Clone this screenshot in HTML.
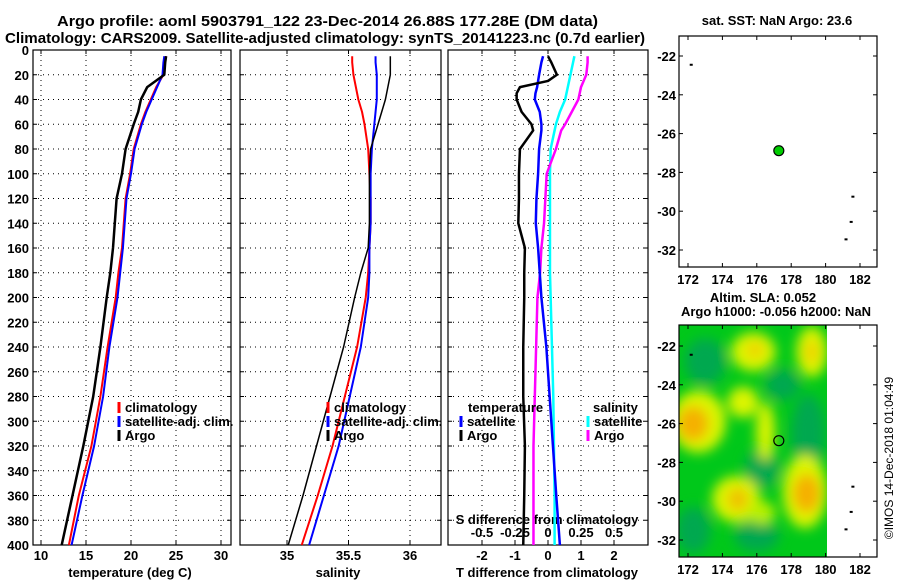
<!DOCTYPE html>
<html><head><meta charset="utf-8"><style>
body{margin:0;background:#fff}
svg{display:block;font-family:"Liberation Sans",sans-serif;font-weight:bold}
text{font-size:13px;fill:#000}
</style></head><body>
<svg id="c" width="900" height="580" viewBox="0 0 900 580">
<defs>
<clipPath id="mapclip"><rect x="679" y="325" width="148" height="232"/></clipPath>
<filter id="bl" x="-50%" y="-50%" width="200%" height="200%"><feGaussianBlur stdDeviation="6"/></filter>
</defs>
<text x="57" y="26" textLength="541" lengthAdjust="spacingAndGlyphs" style="font-size:15px">Argo profile: aoml 5903791_122 23-Dec-2014 26.88S 177.28E (DM data)</text>
<text x="5" y="43" textLength="640" lengthAdjust="spacingAndGlyphs" style="font-size:15px">Climatology: CARS2009. Satellite-adjusted climatology: synTS_20141223.nc (0.7d earlier)</text>
<g id="root"></g>
</svg>
<script>
const depthP=[5,10,20,30,40,50,60,80,100,120,140,160,180,200,240,280,320,360,400];
const tempClim=[23.9,23.8,23.6,22.8,22.2,21.6,21.1,20.3,19.9,19.4,19.2,19.0,18.6,18.3,17.4,16.6,15.6,14.2,13.1];
const tempSat=[23.7,23.6,23.5,22.9,22.3,21.7,21.2,20.4,20.0,19.5,19.3,19.1,18.8,18.5,17.6,16.9,15.9,14.6,13.4];
const tempArgo=[23.9,23.8,23.7,21.8,21.1,20.8,20.3,19.4,19.0,18.4,18.2,18.0,17.7,17.3,16.6,15.8,14.7,13.5,12.3];
const salClim=[35.53,35.53,35.54,35.56,35.58,35.61,35.63,35.66,35.67,35.68,35.68,35.67,35.66,35.64,35.57,35.47,35.37,35.25,35.12];
const salSat=[35.72,35.72,35.73,35.73,35.73,35.72,35.71,35.69,35.68,35.68,35.68,35.67,35.67,35.66,35.6,35.51,35.42,35.3,35.18];
const salArgo=[35.84,35.84,35.84,35.82,35.8,35.77,35.74,35.68,35.67,35.67,35.67,35.66,35.6,35.55,35.46,35.35,35.24,35.13,35.01];
const depthD=[5,10,20,25,30,35,40,50,60,65,80,100,120,140,160,180,200,240,280,320,360,400];
const tDiffArgo=[0.0,0.1,0.27,0.0,-0.85,-0.95,-0.95,-0.8,-0.5,-0.45,-0.85,-0.88,-0.88,-0.9,-0.7,-0.72,-0.72,-0.75,-0.75,-0.7,-0.72,-0.75];
const tDiffSat=[-0.15,-0.2,-0.27,-0.3,-0.33,-0.38,-0.4,-0.25,-0.2,-0.2,-0.27,-0.3,-0.35,-0.37,-0.3,-0.25,-0.2,-0.05,0.05,0.15,0.25,0.36];
const sDiffSat=[0.2,0.19,0.17,0.16,0.15,0.14,0.13,0.09,0.06,0.05,0.02,0.015,0.015,0.015,0.015,0.015,0.02,0.03,0.04,0.045,0.05,0.05];
const sDiffArgo=[0.3,0.3,0.29,0.27,0.25,0.24,0.23,0.18,0.13,0.1,0.06,-0.01,-0.02,-0.03,-0.05,-0.06,-0.08,-0.09,-0.1,-0.11,-0.11,-0.11];
const depthTicks=[0,20,40,60,80,100,120,140,160,180,200,220,240,260,280,300,320,340,360,380,400];
const tempTicks=[10,15,20,25,30];
const salTicks=[35,35.5,36];
const salTickLabels=["35","35.5","36"];
const tDiffTicks=[-2,-1,0,1,2];
const sDiffTicks=[-0.5,-0.25,0,0.25,0.5];
const sDiffLabels=["-0.5","-0.25","0","0.25","0.5"];
const latTicks=[-22,-24,-26,-28,-30,-32];
const lonTicks=[172,174,176,178,180,182];
const argoLon=177.28, argoLat=-26.88;

const NS="http://www.w3.org/2000/svg";
const root=document.getElementById('root');
function mk(tag,at,parent){const e=document.createElementNS(NS,tag);for(const k in at)e.setAttribute(k,at[k]);(parent||root).appendChild(e);return e;}
function txt(x,y,s,anchor,parent){const t=mk('text',{x:x,y:y,'text-anchor':anchor||'middle'},parent);t.textContent=s;return t;}
const Y=d=>50+d*495/400;
const xT=v=>41+(v-10)*9;
const xS=v=>287+(v-35)*123;
const xTD=v=>548+v*33;
const xSD=v=>548+v*132;
const lonX=v=>688+(v-172)*17.2;
const latY1=v=>56+(-22-v)*19.4;
const latY2=v=>346+(-22-v)*19.4;

function panel(name,x0,x1,xticks,xf,showY){
  const g=mk('g',{});
  
  
  depthTicks.forEach(d=>{
    const y=Y(d);
    if(d>0&&d<400){const l=mk('line',{x1:x0,x2:x1,y1:y,y2:y,stroke:'#000','stroke-width':1,'stroke-dasharray':'1,4'},g);
    }
    mk('line',{x1:x0,x2:x0+4,y1:y,y2:y,stroke:'#000'},g);
    mk('line',{x1:x1-4,x2:x1,y1:y,y2:y,stroke:'#000'},g);
    if(showY){const t=txt(29,y+5,String(d),'end',g);}
  });
  xticks.forEach(v=>{const x=xf(v);
    mk('line',{x1:x,x2:x,y1:50,y2:545,stroke:'#000','stroke-dasharray':'1,4'},g);
    mk('line',{x1:x,x2:x,y1:545,y2:541,stroke:'#000'},g);
    mk('line',{x1:x,x2:x,y1:50,y2:54,stroke:'#000'},g);
  });
  const r=mk('rect',{x:x0,y:50,width:x1-x0,height:495,fill:'none',stroke:'#000','stroke-width':1.2},g);
  
  return g;
}
function line(g,xs,ds,xf,color,w,name){
  const p=mk('polyline',{points:xs.map((v,i)=>xf(v)+','+Y(ds[i])).join(' '),fill:'none',stroke:color,'stroke-width':w,'stroke-linejoin':'round'},g);
  
  
}
function legend(g,x,y,color,label){
  mk('line',{x1:x,x2:x,y1:y-10,y2:y+1,stroke:color,'stroke-width':3},g);
  const t=txt(x+6,y,label,'start',g);
  
  
}
const p1=panel('temperature-panel',33,231,tempTicks,xT,true);
tempTicks.forEach(v=>{const t=txt(xT(v),560,String(v),'middle',p1);});
line(p1,tempClim,depthP,xT,'#f00',2,'temp-climatology-line');
line(p1,tempSat,depthP,xT,'#00f',2,'temp-satellite-line');
line(p1,tempArgo,depthP,xT,'#000',2.5,'temp-argo-line');
legend(p1,119,412,'#f00','climatology');legend(p1,119,426,'#00f','satellite-adj. clim.');legend(p1,119,440,'#000','Argo');
let a=txt(130,577,'temperature (deg C)','middle',p1);
const p2=panel('salinity-panel',240,441,salTicks,xS,false);
salTicks.forEach((v,i)=>{const t=txt(xS(v),560,salTickLabels[i],'middle',p2);});
line(p2,salClim,depthP,xS,'#f00',2,'sal-climatology-line');
line(p2,salSat,depthP,xS,'#00f',2,'sal-satellite-line');
line(p2,salArgo,depthP,xS,'#000',1.5,'sal-argo-line');
legend(p2,328,412,'#f00','climatology');legend(p2,328,426,'#00f','satellite-adj. clim.');legend(p2,328,440,'#000','Argo');
a=txt(338,577,'salinity','middle',p2);
const p3=panel('difference-panel',448,648,tDiffTicks,xTD,false);
tDiffTicks.forEach(v=>{const t=txt(xTD(v),560,String(v),'middle',p3);});
sDiffTicks.forEach((v,i)=>{const t=txt(xSD(v),537,sDiffLabels[i],'middle',p3);});
a=txt(547,524,'S difference from climatology','middle',p3);
line(p3,sDiffSat,depthD,xSD,'#0ff',2.5,'sdiff-satellite-line');
line(p3,sDiffArgo,depthD,xSD,'#f0f',2.5,'sdiff-argo-line');
line(p3,tDiffSat,depthD,xTD,'#00f',2.5,'tdiff-satellite-line');
line(p3,tDiffArgo,depthD,xTD,'#000',2.5,'tdiff-argo-line');
txt(468,412,'temperature','start',p3);txt(593,412,'salinity','start',p3);
legend(p3,461,426,'#00f','satellite');legend(p3,461,440,'#000','Argo');
legend(p3,588,426,'#0ff','satellite');legend(p3,588,440,'#f0f','Argo');
a=txt(547,577,'T difference from climatology','middle',p3);

function mapFrame(name,y0,y1,latY){
  const g=mk('g',{});
  
  
  mk('rect',{x:679,y:y0,width:198,height:y1-y0,fill:'none',stroke:'#000','stroke-width':1.2},g);
  latTicks.forEach(v=>{const y=latY(v);mk('line',{x1:679,x2:683,y1:y,y2:y,stroke:'#000'},g);mk('line',{x1:873,x2:877,y1:y,y2:y,stroke:'#000'},g);
    const t=txt(676,y+5,String(v),'end',g);});
  lonTicks.forEach(v=>{const x=lonX(v);mk('line',{x1:x,x2:x,y1:y1,y2:y1-4,stroke:'#000'},g);mk('line',{x1:x,x2:x,y1:y0,y2:y0+4,stroke:'#000'},g);
    const t=txt(x,y1+17,String(v),'middle',g);});
  [[181.5,-29.2],[181.4,-30.5],[181.1,-31.4],[172.1,-22.4]].forEach(p=>mk('rect',{x:lonX(p[0]),y:latY(p[1]),width:3,height:2,fill:'#000'},g));
  return g;
}
const m1=mapFrame('sst-map',36,267,latY1);
let t=txt(777,25,'sat. SST: NaN Argo: 23.6','middle',m1);
const dot=mk('circle',{cx:lonX(argoLon),cy:latY1(argoLat),r:5,fill:'#0c0',stroke:'#000','stroke-width':1.2},m1);


const hm=mk('g',{'clip-path':'url(#mapclip)'});

mk('rect',{x:679,y:325,width:148,height:232,fill:'#00c81a'},hm);
const bg=mk('g',{filter:'url(#bl)'},hm);
const blobs=[[173,-22.8,1.2,1.2,'#00a850'],[179,-26.5,1,2,'#00a850'],[176.3,-28.3,1,1,'#00a850'],[172.3,-31.5,1,1.2,'#00a850'],[176,-31.8,1.3,0.8,'#00a850'],[177.5,-24,1,0.8,'#00a850'],
[172.6,-25.9,1.6,1.6,'#dcf500'],[175.8,-22.3,1.3,1.0,'#dcf500'],[179.2,-22.3,0.9,1.3,'#dcf500'],[175.2,-24.9,0.9,0.8,'#dcf500'],[176.5,-26.4,0.55,1.5,'#dcf500'],[174.8,-29.9,1.4,1.2,'#dcf500'],[178.8,-29.5,1.3,1.9,'#dcf500'],[176.3,-30.6,0.8,0.6,'#b8f000'],
[172.3,-26,0.9,0.9,'#f5b000'],[174.9,-29.9,0.6,0.6,'#f0c000'],[178.9,-29.6,0.8,1,'#f5b000'],[175.9,-22.2,0.5,0.4,'#f0d000'],[179.2,-22.3,0.4,0.6,'#f0d000']];
blobs.forEach(b=>mk('ellipse',{cx:lonX(b[0]),cy:latY2(b[1]),rx:b[2]*17.2,ry:b[3]*19.4,fill:b[4]},bg));
const m2=mapFrame('sla-map',325,557,latY2);
t=txt(763,302,'Altim. SLA: 0.052','middle',m2);
t=txt(776,316,'Argo h1000: -0.056 h2000: NaN','middle',m2);
const d2=mk('circle',{cx:lonX(argoLon),cy:latY2(argoLat),r:5,fill:'none',stroke:'#000','stroke-width':1.2},m2);

t=mk('text',{x:0,y:0,'text-anchor':'middle',transform:'translate(893,458) rotate(-90)',style:'font-weight:normal;font-size:12px'});
t.textContent='©IMOS 14-Dec-2018 01:04:49';

</script>
</body></html>
